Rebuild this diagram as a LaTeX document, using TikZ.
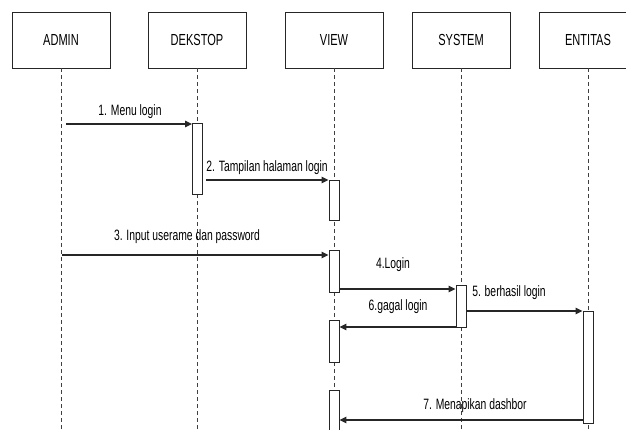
\documentclass[tikz,border=0pt]{standalone}
\usepackage{fontspec}
\setmainfont[FakeStretch=0.69]{Liberation Sans}
\usetikzlibrary{arrows.meta}

\tikzset{
  actor/.style={draw=black!85, line width=0.9pt, fill=white, minimum width=98pt,
    minimum height=56pt, inner sep=0pt, font=\fontsize{16pt}{18pt}\selectfont},
  bar/.style={draw=black!85, line width=0.9pt, fill=white, minimum width=10pt, inner sep=0pt},
  life/.style={draw=black!75, line width=0.8pt, dash pattern=on 4pt off 3pt},
  msg/.style={draw=black!85, line width=1.2pt, -{Triangle[length=7pt,width=6.5pt]}},
  lbl/.style={inner sep=0pt, font=\fontsize{15pt}{17pt}\selectfont}
}

\begin{document}
\begin{tikzpicture}[x=1pt, y=-1pt]
  \useasboundingbox[fill=white] (0,0) rectangle (626,429);

  % participants
  \node[actor] (admin) at (61,40)  {ADMIN};
  \node[actor] (dek)   at (197,40) {DEKSTOP};
  \node[actor] (view)  at (334,40) {VIEW};
  \node[actor] (sys)   at (461,40) {SYSTEM};
  \node[actor] (ent)   at (588,40) {ENTITAS};

  % lifelines
  \foreach \p in {admin,dek,view,sys,ent}
    \draw[life] (\p.south) -- (\p.south |- 0,440);

  % activation bars
  \node[bar, minimum height=71pt]  (dekA)  at (197.5,158.5) {};
  \node[bar, minimum height=40pt]  (viewA) at (334,200) {};
  \node[bar, minimum height=42pt]  (viewB) at (334,271) {};
  \node[bar, minimum height=42pt]  (sysA)  at (461,306) {};
  \node[bar, minimum height=112pt] (entA)  at (588,367) {};
  \node[bar, minimum height=42pt]  (viewC) at (334,341) {};
  \node[bar, minimum height=50pt]  (viewD) at (334,415) {};

  % message end points
  \coordinate (m1s) at (66,124);
  \coordinate (m2s) at (206,180);
  \coordinate (m3s) at (62,255);
  \coordinate (m4s) at (339,289);
  \coordinate (m5s) at (466,311);
  \coordinate (m6s) at (456,327);
  \coordinate (m7s) at (583,420);

  % messages
  \draw[msg] (m1s) -- (m1s -| dekA.west);
  \draw[msg] (m2s) -- (m2s -| viewA.west);
  \draw[msg] (m3s) -- (m3s -| viewB.west);
  \draw[msg] (m4s) -- (m4s -| sysA.west);
  \draw[msg] (m5s) -- (m5s -| entA.west);
  \draw[msg] (m6s) -- (m6s -| viewC.east);
  \draw[msg] (m7s) -- (m7s -| viewD.east);

  % message labels
  \node[lbl] (l1) at (130,112) {1. Menu login};
  \node[lbl] (l2) at (267,168) {2. Tampilan halaman login};
  \node[lbl] (l3) at (187,237) {3. Input userame dan password};
  \node[lbl] (l4) at (393,265) {4.Login};
  \node[lbl] (l5) at (509,293) {5. berhasil login};
  \node[lbl] (l6) at (398,307) {6.gagal login};
  \node[lbl] (l7) at (475,406) {7. Menapikan dashbor};
\end{tikzpicture}
\end{document}
